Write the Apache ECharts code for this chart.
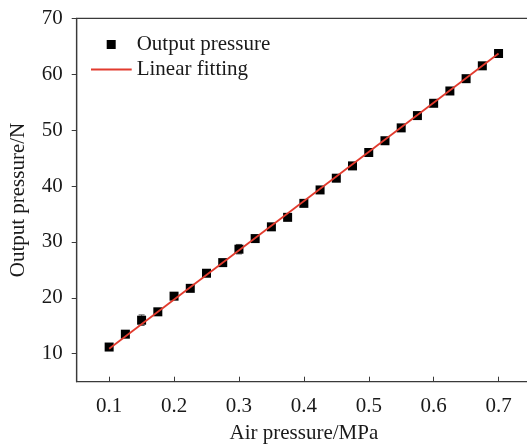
<!DOCTYPE html>
<html>
<head>
<meta charset="utf-8">
<script src="https://cdn.jsdelivr.net/npm/echarts@6/dist/echarts.min.js"></script>
<style>
  html, body { margin: 0; padding: 0; background: #fff; }
  #chart { width: 527px; height: 445px; }
</style>
</head>
<body>
<div id="chart"></div>
<script>
// 气压 (MPa)
var airPressure = [0.1, 0.125, 0.15, 0.175, 0.2, 0.225, 0.25, 0.275, 0.3, 0.325, 0.35, 0.375, 0.4,
                   0.425, 0.45, 0.475, 0.5, 0.525, 0.55, 0.575, 0.6, 0.625, 0.65, 0.675, 0.7]
// 输出力 (N)
var outputForce = [11.2, 13.5, 16.0, 17.5, 20.3, 21.7, 24.4, 26.3, 28.7, 30.6, 32.7, 34.4, 36.9,
                   39.3, 41.4, 43.6, 46.0, 48.1, 50.4, 52.6, 54.8, 57.0, 59.2, 61.5, 63.7]
// 误差 (N)
var forceError = [0.3, 0.3, 0.95, 0.3, 0.3, 0.3, 0.3, 0.3, 0.85, 0.3, 0.3, 0.3, 0.5,
                  0.3, 0.3, 0.3, 0.3, 0.3, 0.3, 0.3, 0.3, 0.3, 0.3, 0.3, 0.3]
// 线性拟合端点
var fitX = [0.1, 0.7]
var fitY = [10.9, 63.7]

var xTicks = [0.1, 0.2, 0.3, 0.4, 0.5, 0.6, 0.7]
var yTicks = [10, 20, 30, 40, 50, 60, 70]

var font = 'Liberation Serif'
var axisColor = '#3a3a3a'
var textColor = '#1a1a1a'

var scatterData = airPressure.map(function (x, i) { return [x, outputForce[i]] })
var errorData = airPressure.map(function (x, i) {
  return [x, outputForce[i] - forceError[i], outputForce[i] + forceError[i]]
})
var fitData = fitX.map(function (x, i) { return [x, fitY[i]] })

var myChart = echarts.init(document.getElementById('chart'))

var option = {
  animation: false,
  grid: {
    left: 76.7, top: 18.3, width: 454.3, height: 363.4,
    outerBoundsMode: 'none', containLabel: false,
    show: true, borderColor: axisColor, borderWidth: 1.2
  },
  legend: [
    {
      data: ['Output pressure'],
      left: 106.7, top: 34, padding: 0,
      icon: 'rect', itemWidth: 9, itemHeight: 9,
      textStyle: { fontFamily: font, fontSize: 21, color: textColor, padding: [0, 0, 0, 16] }
    },
    {
      data: ['Linear fitting'],
      left: 91, top: 59, padding: 0,
      icon: 'rect', itemWidth: 40.7, itemHeight: 2,
      textStyle: { fontFamily: font, fontSize: 21, color: textColor }
    }
  ],
  xAxis: {
    type: 'value', min: 0.05, max: 0.75,
    name: 'Air pressure/MPa', nameLocation: 'middle', nameGap: 41,
    nameTextStyle: { fontFamily: font, fontSize: 21, color: textColor },
    splitLine: { show: false },
    axisLine: { lineStyle: { color: axisColor, width: 1.2 } },
    axisTick: { inside: true, length: 5, customValues: xTicks, lineStyle: { color: axisColor } },
    axisLabel: {
      customValues: xTicks, margin: 14,
      fontFamily: font, fontSize: 21, color: textColor,
      formatter: function (v) { return v.toFixed(1) }
    }
  },
  yAxis: {
    type: 'value', min: 5, max: 70,
    name: 'Output pressure/N', nameLocation: 'middle', nameGap: 48,
    nameTextStyle: { fontFamily: font, fontSize: 21, color: textColor },
    splitLine: { show: false },
    axisLine: { show: true, lineStyle: { color: axisColor, width: 1.2 } },
    axisTick: { show: true, length: 5, customValues: yTicks, lineStyle: { color: axisColor } },
    axisLabel: {
      customValues: yTicks, margin: 14,
      fontFamily: font, fontSize: 21, color: textColor
    }
  },
  series: [
    {
      name: 'error',
      type: 'custom',
      z: 1,
      renderItem: function (params, api) {
        var x = api.value(0)
        var lo = api.coord([x, api.value(1)])
        var hi = api.coord([x, api.value(2)])
        var cap = 3
        var style = { stroke: '#555', lineWidth: 1 }
        return {
          type: 'group',
          children: [
            { type: 'line', shape: { x1: lo[0], y1: lo[1], x2: hi[0], y2: hi[1] }, style: style },
            { type: 'line', shape: { x1: lo[0] - cap, y1: lo[1], x2: lo[0] + cap, y2: lo[1] }, style: style },
            { type: 'line', shape: { x1: hi[0] - cap, y1: hi[1], x2: hi[0] + cap, y2: hi[1] }, style: style }
          ]
        }
      },
      encode: { x: 0, y: [1, 2] },
      data: errorData
    },
    {
      name: 'Output pressure',
      type: 'scatter',
      symbol: 'rect',
      symbolSize: 9,
      z: 2,
      itemStyle: { color: '#000', opacity: 1 },
      data: scatterData
    },
    {
      name: 'Linear fitting',
      type: 'line',
      showSymbol: false,
      symbol: 'none',
      z: 3,
      lineStyle: { color: '#e23b2e', width: 1.8 },
      itemStyle: { color: '#e23b2e' },
      data: fitData
    }
  ]
}

myChart.setOption(option)
</script>
</body>
</html>
